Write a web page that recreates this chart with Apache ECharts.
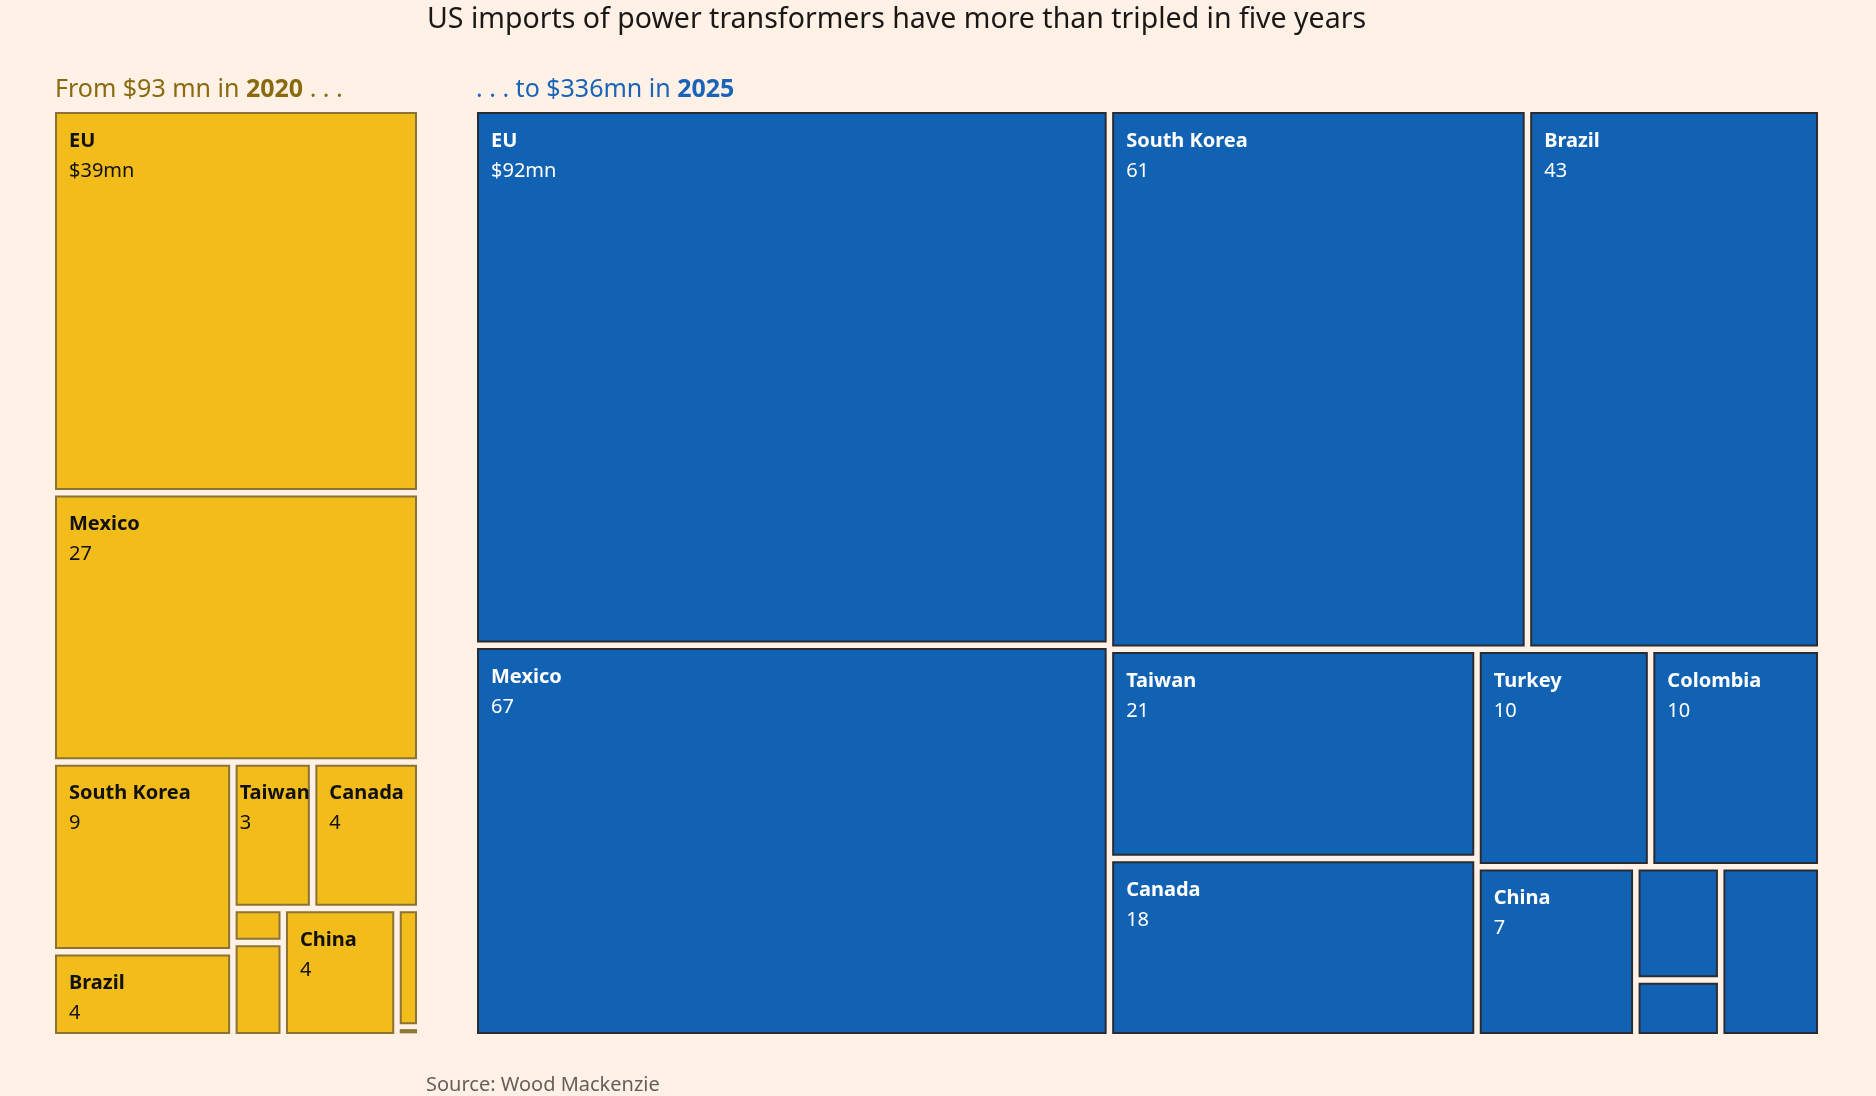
<!DOCTYPE html>
<html>
<head>
<meta charset="utf-8">
<title>US imports of power transformers</title>
<script src="https://cdn.jsdelivr.net/npm/echarts@6/dist/echarts.min.js"></script>
<style>
    html, body { margin: 0; padding: 0; background: #fff1e5; }
    #chart { width: 1876px; height: 1096px; }
</style>
</head>
<body>
<div id="chart"></div>
<script>
// 2020 imports, $mn (listed in the order the boxes are placed; labels show rounded values)
var countries2020 = ['EU', 'Mexico', 'South Korea', 'Brazil', 'Taiwan', 'Canada', 'Turkey', 'Colombia', 'China', 'Other A', 'Other B'];
var values2020 = [38.6, 27.1, 9.4, 4.2, 3.2, 4.3, 0.47, 1.3, 4.0, 0.74, 0.06];
var unlabelled2020 = ['Turkey', 'Colombia', 'Other A', 'Other B'];

// 2025 imports, $mn
var countries2025 = ['EU', 'Mexico', 'South Korea', 'Brazil', 'Taiwan', 'Canada', 'Turkey', 'Colombia', 'China', 'Other A', 'Other B', 'Other C'];
var values2025 = [92, 67.2, 61, 42.8, 20.8, 17.7, 10.2, 10.0, 7.3, 2.6, 1.3, 4.6];
var unlabelled2025 = ['Other A', 'Other B', 'Other C'];

var FONT = '"Noto Sans", sans-serif';
var GAP = 5.5;

// 把名称和数值拼成 treemap 的数据
function buildData(names, values, hidden, overrides) {
    var list = [];
    for (var i = 0; i < names.length; i++) {
        var item = { name: names[i], value: values[i] };
        if (hidden.indexOf(names[i]) >= 0) {
            item.label = { show: false };
        } else if (overrides && overrides[names[i]]) {
            item.label = overrides[names[i]];
        }
        list.push(item);
    }
    return list;
}

function labelFormatter(names) {
    return function (p) {
        var n = Math.round(p.value);
        var v = names.indexOf(p.name) === 0 ? '$' + n + 'mn' : n;
        return '{n|' + p.name + '}\n{v|' + v + '}';
    };
}

function treemapSeries(box, names, values, hidden, fill, border, textColor, overrides) {
    return {
        type: 'treemap',
        left: box[0],
        top: box[1],
        width: box[2],
        height: box[3],
        sort: false,
        roam: false,
        nodeClick: false,
        silent: true,
        breadcrumb: { show: false },
        label: {
            show: true,
            position: 'insideTopLeft',
            distance: 0,
            padding: [12, 4, 0, 12],
            formatter: labelFormatter(names),
            rich: {
                n: { fontFamily: FONT, fontSize: 20, fontWeight: 'bold', lineHeight: 30, color: textColor },
                v: { fontFamily: FONT, fontSize: 20, lineHeight: 30, color: textColor }
            }
        },
        levels: [
            { itemStyle: { borderWidth: 0, gapWidth: GAP, borderColor: '#fff1e5', color: '#fff1e5' } },
            { itemStyle: { color: fill, borderColor: border, borderWidth: 2, gapWidth: 0 } }
        ],
        data: buildData(names, values, hidden, overrides)
    };
}

var chart = echarts.init(document.getElementById('chart'));
var option = {
    backgroundColor: '#fff1e5',
    animation: false,
    title: [
        {
            text: 'US imports of power transformers have more than tripled in five years',
            left: 422, top: 0,
            textStyle: { fontFamily: FONT, fontSize: 28.5, fontWeight: 'normal', color: '#1a1817' }
        },
        {
            text: '{a|From $93 mn in }{b|2020}{a| . . .}',
            left: 50, top: 72,
            textStyle: {
                rich: {
                    a: { fontFamily: FONT, fontSize: 25, fontWeight: 'normal', color: '#8a6a0e' },
                    b: { fontFamily: FONT, fontSize: 25, fontWeight: 'bold', color: '#8a6a0e' }
                }
            }
        },
        {
            text: '{a|. . . to $336mn in }{b|2025}',
            left: 471, top: 72,
            textStyle: {
                rich: {
                    a: { fontFamily: FONT, fontSize: 25, fontWeight: 'normal', color: '#1a63b8' },
                    b: { fontFamily: FONT, fontSize: 25, fontWeight: 'bold', color: '#1a63b8' }
                }
            }
        },
        {
            text: 'Source: Wood Mackenzie',
            left: 421, top: 1070,
            textStyle: { fontFamily: FONT, fontSize: 20, fontWeight: 'normal', color: '#66605c' }
        }
    ],
    series: [
        treemapSeries([55, 112, 362, 922], countries2020, values2020, unlabelled2020,
            '#f2bc1a', '#8a7335', '#111111',
            { 'Taiwan': { padding: [12, 0, 0, 2], overflow: 'none' } }),
        treemapSeries([477, 112, 1341, 922], countries2025, values2025, unlabelled2025,
            '#1262b3', '#2a2c33', '#ffffff')
    ]
};
chart.setOption(option);
</script>
</body>
</html>
